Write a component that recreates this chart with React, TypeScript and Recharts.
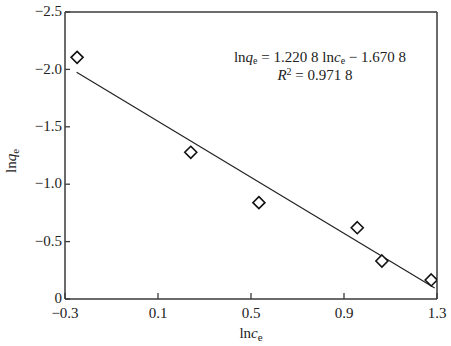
import React from 'react';
import { ScatterChart, Scatter, XAxis, YAxis, ReferenceLine, Customized } from 'recharts';

const lnCe = [-0.248, 0.241, 0.534, 0.957, 1.063, 1.275];
const lnQe = [-2.105, -1.278, -0.839, -0.621, -0.331, -0.166];

// fitted line end points
const fitX = [-0.25, 1.29];
const fitY = [-1.975, -0.096];

const xTicks = [-0.3, 0.1, 0.5, 0.9, 1.3];
const xTickLabels = ['\u22120.3', '0.1', '0.5', '0.9', '1.3'];
const yTicks = [-2.5, -2.0, -1.5, -1.0, -0.5, 0];
const yTickLabels = ['\u22122.5', '\u22122.0', '\u22121.5', '\u22121.0', '\u22120.5', '0'];

const points = lnCe.map((x, i) => ({ x, y: lnQe[i] }));
const fitLine = fitX.map((x, i) => ({ x, y: fitY[i] }));

const FONT = '"Liberation Serif", "Times New Roman", serif';
const AXIS = '#3a3a3a';

const XTick = (props: any) => {
  const { x, y, payload } = props;
  const idx = xTicks.indexOf(payload.value);
  return (
    <g>
      <line x1={x} x2={x} y1={y} y2={y - 6} stroke={AXIS} strokeWidth={1.3} />
      <text x={x} y={y + 19} textAnchor="middle" fontFamily={FONT} fontSize={15} fill="#222">
        {xTickLabels[idx]}
      </text>
    </g>
  );
};

const YTick = (props: any) => {
  const { x, y, payload } = props;
  const idx = yTicks.indexOf(payload.value);
  return (
    <g>
      <line x1={x} x2={x + 5} y1={y} y2={y} stroke={AXIS} strokeWidth={1.3} />
      <text x={x - 3} y={y - 1} dy="0.35em" textAnchor="end" fontFamily={FONT} fontSize={15} fill="#222">
        {yTickLabels[idx]}
      </text>
    </g>
  );
};

const Diamond = (props: any) => {
  const { cx, cy } = props;
  const r = 6;
  return (
    <polygon
      points={`${cx},${cy - r} ${cx + r},${cy} ${cx},${cy + r} ${cx - r},${cy}`}
      fill="#fff"
      stroke="#111"
      strokeWidth={1.6}
    />
  );
};

const Texts = () => (
  <g fontFamily={FONT} fill="#222">
    <text x={320} y={62} textAnchor="middle" fontSize={15}>
      ln<tspan fontStyle="italic">q</tspan>
      <tspan fontSize={10} dy={2}>e</tspan>
      <tspan dy={-2}> = 1.220 8 ln</tspan>
      <tspan fontStyle="italic">c</tspan>
      <tspan fontSize={10} dy={2}>e</tspan>
      <tspan dy={-2}> {'\u2212'} 1.670 8</tspan>
    </text>
    <text x={315} y={80} textAnchor="middle" fontSize={15}>
      <tspan fontStyle="italic">R</tspan>
      <tspan fontSize={10} dy={-5}>2</tspan>
      <tspan dy={5}> = 0.971 8</tspan>
    </text>
    <text x={251} y={338} textAnchor="middle" fontSize={15}>
      ln<tspan fontStyle="italic">c</tspan>
      <tspan fontSize={11} dy={3}>e</tspan>
    </text>
    <text transform="translate(16,161) rotate(-90)" textAnchor="middle" fontSize={15}>
      ln<tspan fontStyle="italic">q</tspan>
      <tspan fontSize={11} dy={3}>e</tspan>
    </text>
  </g>
);

export default function App() {
  return (
    <div style={{ position: 'absolute', left: 0, top: 0, background: '#fff' }}>
      <ScatterChart width={451} height={346} margin={{ top: 12, right: 14, left: 5, bottom: 7 }}>
        <XAxis
          type="number"
          dataKey="x"
          domain={[-0.3, 1.3]}
          ticks={xTicks}
          tick={<XTick />}
          tickSize={0}
          tickMargin={0}
          tickLine={false}
          height={40}
          axisLine={{ stroke: AXIS, strokeWidth: 1.5 }}
          allowDataOverflow
        />
        <YAxis
          type="number"
          dataKey="y"
          domain={[-2.5, 0]}
          reversed
          ticks={yTicks}
          tick={<YTick />}
          tickSize={0}
          tickMargin={0}
          tickLine={false}
          width={60}
          axisLine={{ stroke: AXIS, strokeWidth: 1.5 }}
          allowDataOverflow
        />
        <ReferenceLine y={-2.5} stroke={AXIS} strokeWidth={1.5} />
        <ReferenceLine x={1.3} stroke={AXIS} strokeWidth={1.5} />
        <Scatter
          data={fitLine}
          line={{ stroke: '#222', strokeWidth: 1.2 }}
          shape={() => <g />}
          isAnimationActive={false}
        />
        <Scatter data={points} shape={<Diamond />} isAnimationActive={false} />
        <Customized component={Texts} />
      </ScatterChart>
    </div>
  );
}
